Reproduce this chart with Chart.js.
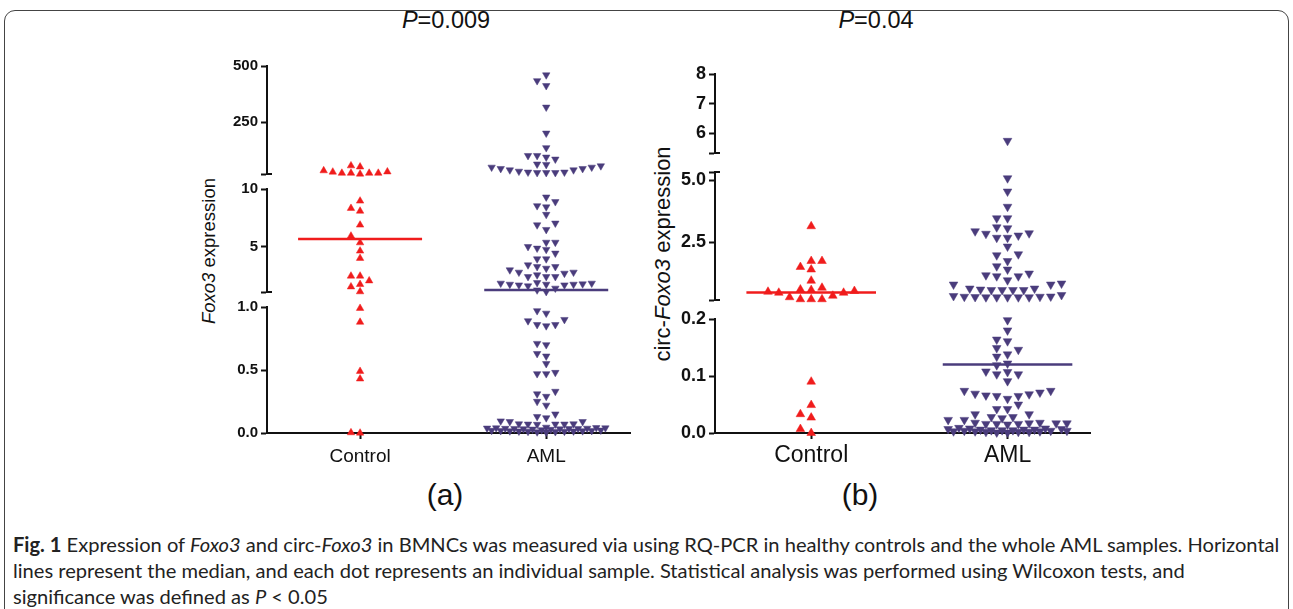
<!DOCTYPE html>
<html>
<head>
<meta charset="utf-8">
<script src="https://cdn.jsdelivr.net/npm/chart.js@4.4.0/dist/chart.umd.min.js"></script>
<style>
body{margin:0;background:#fff;width:1293px;height:609px;overflow:hidden;position:relative;font-family:"Liberation Sans",Arial,sans-serif;color:#111;}
canvas{position:absolute;}
.t{position:absolute;white-space:nowrap;line-height:1;}
#frame{position:absolute;left:4px;top:10px;width:1283px;height:640px;border:1.5px solid #444;border-radius:11px 11px 0 0;}
.ytitle{position:absolute;white-space:nowrap;line-height:1;transform:translate(-50%,-50%) rotate(-90deg);}
.cap{position:absolute;left:13px;white-space:nowrap;font-family:Lato,"Noto Sans",sans-serif;color:#222;line-height:1;}
</style>
</head>
<body>
<div id="frame"></div>
<div class="t" style="left:446px;top:21px;transform:translate(-50%,-50%);font-size:23.5px"><i>P</i>=0.009</div>
<div class="t" style="left:876px;top:21px;transform:translate(-50%,-50%);font-size:23.5px"><i>P</i>=0.04</div>
<div class="ytitle" style="left:209px;top:251px;font-size:18.5px"><i>Foxo3</i> expression</div>
<div class="ytitle" style="left:663px;top:254px;font-size:22px">circ-<i>Foxo3</i> expression</div>
<div class="t" style="left:445px;top:495px;transform:translate(-50%,-50%);font-size:30px">(a)</div>
<div class="t" style="left:860px;top:495px;transform:translate(-50%,-50%);font-size:30px">(b)</div>
<div class="cap" id="cap1" style="top:534px"><b>Fig. 1</b> Expression of <i>Foxo3</i> and circ-<i>Foxo3</i> in BMNCs was measured via using RQ-PCR in healthy controls and the whole AML samples. Horizontal</div>
<div class="cap" id="cap2" style="top:560px">lines represent the median, and each dot represents an individual sample. Statistical analysis was performed using Wilcoxon tests, and</div>
<div class="cap" id="cap3" style="top:586px">significance was defined as <i>P</i> &lt; 0.05</div>
<script>
var groups = ['Control', 'AML'];

// (a) Foxo3 expression
var foxoControl = [55, 50, 33, 28, 27, 22, 22, 22, 22, 18,
  8.97, 8.34, 8.1, 6.9, 5.95, 5.37, 4.66, 4.03, 2.5, 2.5, 2.09, 1.78, 1.57, 1.15,
  0.99, 0.88, 0.49, 0.43, 0.003, 0.0];
var foxoAML = [460, 434, 412, 316, 200, 135, 100, 100, 93, 84, 62, 60,
  54, 48, 48, 42, 42, 36, 36, 30, 26, 26, 24, 24, 24,
  9.3, 8.9, 8.55, 8.45, 7.8, 7.05, 6.9, 6.5, 5.4, 5.4, 5.03, 4.89, 4.78, 4.46,
  3.97, 3.97, 3.45, 3.3, 3.3, 3.16, 3.02, 2.82, 2.82, 2.73, 2.59, 2.44, 2.44, 2.44,
  1.92, 1.87, 1.87, 1.81, 1.78, 1.78, 1.78, 1.72, 1.72, 1.64, 1.44, 1.29, 1.15,
  0.97, 0.95, 0.90, 0.89, 0.86, 0.86, 0.85, 0.71, 0.70, 0.63, 0.61, 0.55,
  0.48, 0.47, 0.47, 0.33, 0.31, 0.29, 0.25, 0.22, 0.15, 0.13, 0.12,
  0.095, 0.09, 0.09, 0.072, 0.07, 0.07, 0.068, 0.07, 0.072,
  0.045, 0.042, 0.04, 0.04, 0.038, 0.037, 0.036, 0.035, 0.035, 0.034, 0.033, 0.032, 0.03, 0.028,
  0.025, 0.022, 0.02, 0.019, 0.018, 0.017, 0.016, 0.015, 0.014, 0.013, 0.012, 0.01, 0.008, 0.006];
var foxoMedian = [5.69, 1.29];
var foxoSegMin = [0, 1.12, 18];
var foxoSegMax = [1.0, 10, 500];
var foxoTickVals = [[0, 0.5, 1.0], [5, 10], [250, 500]];
var foxoTickText = [['0.0', '0.5', '1.0'], ['5', '10'], ['250', '500']];

// (b) circ-Foxo3 expression
var circControl = [3.15, 1.76, 1.76, 1.52, 1.42, 0.97, 0.69,
  0.62, 0.60, 0.56, 0.53, 0.49, 0.49, 0.37, 0.31, 0.23, 0.23, 0.23,
  0.09, 0.049, 0.033, 0.027, 0.007, 0.0];
var circAML = [5.75,
  5.07, 4.54, 3.93, 3.47, 3.47, 3.11, 3.07, 2.95, 2.87, 2.85, 2.78, 2.69, 2.69,
  2.34, 2.03, 1.99, 1.76, 1.55, 1.42, 1.26, 1.19, 1.15, 1.15, 0.99, 0.86, 0.82, 0.82,
  0.66, 0.66, 0.62, 0.60, 0.60, 0.60, 0.60,
  0.40, 0.36, 0.34, 0.33, 0.32, 0.31, 0.31, 0.31, 0.31, 0.31, 0.33,
  0.198, 0.18, 0.164, 0.161, 0.149, 0.146, 0.138, 0.134, 0.122, 0.119,
  0.108, 0.107, 0.103, 0.103, 0.091,
  0.074, 0.074, 0.071, 0.069, 0.068, 0.066, 0.065, 0.065, 0.06, 0.05, 0.042, 0.042,
  0.033, 0.033, 0.028, 0.028, 0.026, 0.023, 0.023,
  0.018, 0.018, 0.017, 0.017, 0.017, 0.016, 0.016, 0.016, 0.015,
  0.009, 0.008, 0.008, 0.007, 0.007, 0.006, 0.006, 0.006, 0.005, 0.005, 0.005,
  0.004, 0.004, 0.004, 0.003, 0.003, 0.003, 0.002, 0.002, 0.002, 0.001, 0.001];
var circMedian = [0.50, 0.12];
var circSegMin = [0, 0.2, 5.34];
var circSegMax = [0.2, 5.32, 8];
var circTickVals = [[0, 0.1, 0.2], [2.5, 5.0], [6, 7, 8]];
var circTickText = [['0.0', '0.1', '0.2'], ['2.5', '5.0'], ['6', '7', '8']];

var colors = ['#f01c1c', '#4a3c7c'];
var FONT = '"Liberation Sans", Arial, sans-serif';
var XH = 44, PAD = 14;

var panels = [
  {ctrl: foxoControl, aml: foxoAML, med: foxoMedian, lo: foxoSegMin, hi: foxoSegMax,
   tv: foxoTickVals, tt: foxoTickText, left: 180, width: 480, yW: 87, padR: 30,
   xMin: 0.5, xMax: 2.45, areas: [[307, 433], [189, 292], [66, 174]],
   font: 15, xFont: 19, xPad: 6, r: 4.3, step: 9.1, maxOff: 60, dy: 7, medHalf: 0.333},
  {ctrl: circControl, aml: circAML, med: circMedian, lo: circSegMin, hi: circSegMax,
   tv: circTickVals, tt: circTickText, left: 640, width: 480, yW: 75, padR: 30,
   xMin: 0.51, xMax: 2.42, areas: [[319, 433], [172, 300], [74, 153]],
   font: 18, xFont: 23, xPad: 3, r: 5, step: 10.8, maxOff: 60, dy: 8.5, medHalf: 0.33}
];

function segOf(v, P) {
  var s = 0;
  for (var i = 0; i < P.lo.length; i++) if (v >= P.lo[i]) s = i;
  return s;
}

// simple beeswarm: lowest values first, nearest free slot to the centre
function swarm(vals, ys, step, maxOff, dy) {
  var order = vals.map(function(v, i){ return i; }).sort(function(a, b){ return vals[a] - vals[b]; });
  var cands = [0];
  for (var k = 1; k * step <= maxOff; k++) cands.push(-k * step, k * step);
  for (var h = 0.5; h * step <= maxOff; h++) cands.push(-h * step, h * step);
  var placed = [], offs = [];
  order.forEach(function(i){
    var y = ys.getPixelForValue(vals[i]);
    var best = 0, bestScore = -1;
    for (var c = 0; c < cands.length; c++) {
      var x = cands[c], sc = Infinity;
      placed.forEach(function(p){ sc = Math.min(sc, Math.hypot((x - p.x) / step, (y - p.y) / dy)); });
      if (sc >= 1) { best = x; break; }
      if (sc > bestScore) { bestScore = sc; best = x; }
    }
    placed.push({x: best, y: y});
    offs[i] = best;
  });
  return offs;
}

// break marks: the unlabelled end ticks of each axis piece also stick out to the right
var breakCaps = {
  id: 'breakCaps',
  afterDraw: function(chart){
    var ys = chart.scales.y, ctx = chart.ctx, x0 = ys.right;
    ctx.save();
    ctx.strokeStyle = '#111';
    ctx.lineWidth = 2;
    ys.ticks.forEach(function(t){
      if (t.label !== '') return;
      var y = ys.getPixelForValue(t.value);
      ctx.beginPath();
      ctx.moveTo(x0 - 1, y);
      ctx.lineTo(x0 + 5, y);
      ctx.stroke();
    });
    ctx.restore();
  }
};

panels.forEach(function(P){
  P.areas.forEach(function(area, s){
    var bottom = s === 0;
    var cv = document.createElement('canvas');
    cv.width = P.width;
    cv.height = (area[1] - area[0]) + PAD + (bottom ? XH : PAD);
    cv.style.left = P.left + 'px';
    cv.style.top = (area[0] - PAD) + 'px';
    document.body.appendChild(cv);

    var tickVals = [P.lo[s]].concat(P.tv[s], [P.hi[s]]).filter(function(v, i, a){ return a.indexOf(v) === i; });
    var datasets = [];
    [P.ctrl, P.aml].forEach(function(vals, g){
      datasets.push({
        data: vals.filter(function(v){ return segOf(v, P) === s; }).map(function(v){ return {x: g + 1, y: v}; }),
        pointStyle: 'triangle', pointRotation: g ? 180 : 0, pointRadius: P.r,
        pointBackgroundColor: colors[g], pointBorderColor: colors[g], pointBorderWidth: 0.5,
        showLine: false, clip: false, order: 1
      });
    });
    P.med.forEach(function(m, g){
      if (segOf(m, P) !== s) return;
      datasets.push({type: 'line', data: [{x: g + 1 - P.medHalf, y: m}, {x: g + 1 + P.medHalf, y: m}],
        borderColor: colors[g], borderWidth: 2.5, pointRadius: 0, clip: false, order: 0});
    });

    var chart = new Chart(cv, {
      type: 'scatter',
      data: {datasets: datasets},
      plugins: [breakCaps],
      options: {
        responsive: false, animation: false, events: [],
        layout: {padding: {top: PAD, bottom: bottom ? 0 : PAD, left: 0, right: P.padR}},
        plugins: {legend: {display: false}, tooltip: {enabled: false}},
        scales: {
          x: {
            type: 'linear', min: P.xMin, max: P.xMax, display: bottom,
            afterBuildTicks: function(sc){ sc.ticks = groups.map(function(g, i){ return {value: i + 1}; }); },
            afterFit: function(sc){ if (bottom) sc.height = XH; },
            ticks: {callback: function(v, i){ return groups[i]; }, font: {size: P.xFont, family: FONT},
                    color: '#111', padding: P.xPad, maxRotation: 0, autoSkip: false},
            grid: {drawOnChartArea: false, tickLength: 6, tickWidth: 2, tickColor: '#111'},
            border: {color: '#111', width: 2}
          },
          y: {
            type: 'linear', min: P.lo[s], max: P.hi[s],
            afterBuildTicks: function(sc){ sc.ticks = tickVals.map(function(v){ return {value: v}; }); },
            afterFit: function(sc){ sc.width = P.yW; },
            ticks: {callback: function(v){ var k = P.tv[s].indexOf(v); return k < 0 ? '' : P.tt[s][k]; },
                    font: {size: P.font, weight: 'bold', family: FONT}, color: '#111', padding: 3, autoSkip: false},
            grid: {drawOnChartArea: false, tickLength: 6, tickWidth: 2, tickColor: '#111'},
            border: {color: '#111', width: 2}
          }
        }
      }
    });

    var xs = chart.scales.x, ys = chart.scales.y;
    var unit = xs.getPixelForValue(2) - xs.getPixelForValue(1);
    [0, 1].forEach(function(g){
      var ds = chart.data.datasets[g];
      var offs = swarm(ds.data.map(function(p){ return p.y; }), ys, P.step, P.maxOff, P.dy);
      ds.data.forEach(function(p, i){ p.x = g + 1 + offs[i] / unit; });
    });
    chart.update('none');
  });
});

// fit the caption's first line to its width, same size for the rest
var c1 = document.getElementById('cap1');
c1.style.fontSize = '16px';
var fs = 16 * 1267 / c1.getBoundingClientRect().width;
['cap1', 'cap2', 'cap3'].forEach(function(id){ document.getElementById(id).style.fontSize = fs + 'px'; });
</script>
</body>
</html>
